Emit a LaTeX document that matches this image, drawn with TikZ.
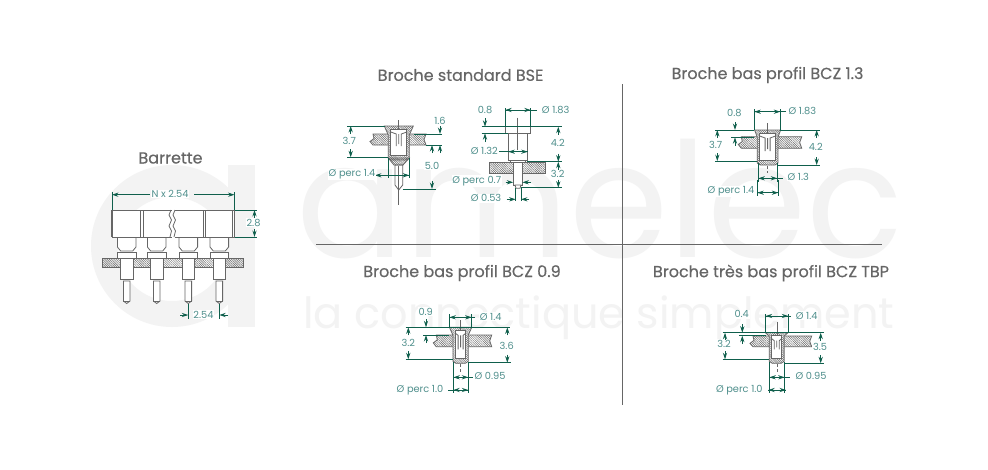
\documentclass[tikz,border=0pt]{standalone}
\usepackage{fontspec}
\setmainfont{Poppins}
\newfontfamily\titlefont[FakeBold=0.35]{Poppins}
\usetikzlibrary{arrows.meta,patterns.meta}

\definecolor{dimgreen}{HTML}{0F5F4C}
\definecolor{partgray}{HTML}{666666}
\definecolor{labelteal}{HTML}{4F8F8C}
\definecolor{markgray}{HTML}{F3F3F3}

\tikzset{
  partline/.style={draw=partgray, line width=0.8pt},
  sepline/.style={draw=partgray, line width=0.8pt},
  dimline/.style={draw=dimgreen, line width=0.9pt},
  dimtip/.style={dimline, -{Stealth[length=6.5pt,width=4.2pt]}},
  dimlabel/.style={text=labelteal, fill=white, inner sep=0.8pt, font=\fontsize{9.8}{11}\selectfont},
  titlelabel/.style={text=partgray, font=\titlefont\fontsize{16}{18}\selectfont},
  hatched/.style={pattern={Lines[angle=-45,distance=1.6pt,line width=0.45pt]}, pattern color=partgray},
  densehatch/.style={pattern={Lines[angle=-45,distance=1.5pt,line width=0.5pt]}, pattern color=partgray},
}

% plate with broken ends: left, right, top, bottom
\newcommand{\brokenplate}[4]{
  \draw[partline, hatched] ({#1+3},#3) -- (#2,#3) -- ({#2-2},{(#3+#4)/2}) -- (#2,#4) -- ({#1+3},#4) -- (#1,{(#3+#4)/2+2}) -- ({#1+4},{(#3+#4)/2-1}) -- cycle;
}
% socket section: centre, flange half width, body half width, top, plate level, bottom
\newcommand{\socketpin}[6]{
  \fill[white] ({#1-#2},#4) -- ({#1+#2},#4) -- ({#1+#3},#5) -- ({#1+#3},{#6-2}) -- ({#1+#3-3},#6) -- ({#1-#3+3},#6) -- ({#1-#3},{#6-2}) -- ({#1-#3},#5) -- cycle;
  \draw[partline, densehatch] ({#1-#2},#4) -- ({#1+#2},#4) -- ({#1+#3},#5) -- ({#1+#3},{#6-2}) -- ({#1+#3-3},#6) -- ({#1-#3+3},#6) -- ({#1-#3},{#6-2}) -- ({#1-#3},#5) -- cycle;
  \draw[partline, fill=white] ({#1-#3+2.5},{#4+3}) rectangle ({#1+#3-2.5},{#6-5});
  \draw[partline] ({#1-#3+2.5},{#4+6}) -- ({#1-2.5},{#4+8}) -- ({#1-2.5},{#6-14}) ({#1+#3-2.5},{#4+6}) -- ({#1+2.5},{#4+8}) -- ({#1+2.5},{#6-14}) (#1,{#4+8}) -- (#1,{#6-16});
}
% one pin of the strip: centre
\newcommand{\stripin}[1]{
  \draw[partline, fill=white] ({#1-9.3},237) -- ({#1-9.3},247) -- ({#1-6},251) -- ({#1+6},251) -- ({#1+9.3},247) -- ({#1+9.3},237);
  \draw[partline, fill=white] ({#1-9.3},252) rectangle ({#1+9.3},258.5);
  \draw[partline, fill=white] ({#1-3.3},281) -- ({#1-3.3},301) -- (#1,303.5) -- ({#1+3.3},301) -- ({#1+3.3},281) -- cycle;
  \draw[partline] ({#1-3.3},301) -- ({#1+3.3},301);
}
% vertical dimension: x, y1, y2, arrows pointing to y1 and y2
\newcommand{\dimv}[3]{
  \draw[dimtip] (#1,{#2+8}) -- (#1,#2);
  \draw[dimtip] (#1,{#3-8}) -- (#1,#3);
}
% horizontal dimension with the line between: x1, x2, y
\newcommand{\dimh}[3]{
  \draw[dimline] (#1,#3) -- (#2,#3);
  \draw[dimtip] ({(#1+#2)/2},#3) -- (#1,#3);
  \draw[dimtip] ({(#1+#2)/2},#3) -- (#2,#3);
}

\begin{document}
\begin{tikzpicture}[x=1pt,y=-1pt]
  \useasboundingbox (0,0) rectangle (988,469);
  \fill[white] (0,0) rectangle (988,469);

  % watermark
  \fill[markgray, even odd rule] (172,246) ellipse (81 and 81) (172,249) ellipse (54 and 52);
  \fill[white] (228,150) rectangle (260,200);
  \fill[markgray] (228,165) rectangle (255,327);
  \node[text=markgray, anchor=base, inner sep=0pt, font=\fontsize{160}{160}\selectfont] (markname) at (600,257) {amelec};
  \node[text=markgray, anchor=base, inner sep=0pt, font=\fontsize{43}{43}\selectfont] (markline) at (599,328) {la connectique simplement};

  % separators
  \draw[sepline] (622,84) -- (622,405);
  \draw[sepline] (316,244) -- (882,244);

  % titles
  \node[titlelabel] (titlestrip) at (170.5,158) {Barrette};
  \node[titlelabel] (titlebse) at (460.5,75) {Broche standard BSE};
  \node[titlelabel] (titlebcz13) at (767.5,75) {Broche bas profil BCZ 1.3};
  \node[titlelabel] (titlebcz09) at (462,273) {Broche bas profil BCZ 0.9};
  \node[titlelabel] (titletbp) at (771,273) {Broche très bas profil BCZ TBP};

  % strip body
  \stripin{126.7}
  \stripin{156.7}
  \stripin{188.3}
  \stripin{219.3}
  \draw[partline, hatched] (102.7,258.5) rectangle (243,267.3);
  \foreach \pinx in {126.7,156.7,188.3,219.3}
    \draw[partline, fill=white] ({\pinx-6.3},258.5) rectangle ({\pinx+6.3},279);
  \draw[partline, fill=white] (112,210) rectangle (234.5,237);
  \draw[draw=partgray, line width=1.1pt] (112,210) -- (112,237);
  \draw[partline] (140,210) -- (140,237) (143,210) -- (143,237) (203,210) -- (203,237) (205.5,210) -- (205.5,237) (232,210) -- (232,237);
  \fill[white] (172,209) rectangle (175,238);
  \draw[partline] (171,210) -- (169,215) -- (171.5,220) -- (169,226) -- (171.5,231) -- (170,237);
  \draw[partline] (175,210) -- (173,215) -- (175.5,220) -- (173,226) -- (175.5,231) -- (174,237);

  % strip dimensions
  \draw[dimline] (112,192) -- (112,210) (234.5,192) -- (234.5,210);
  \draw[dimtip] (150,194.7) -- (112,194.7);
  \draw[dimtip] (194,194.7) -- (234.5,194.7);
  \node[dimlabel] (lblstripn) at (170,194) {N x 2.54};
  \draw[dimline] (234.5,210) -- (257,210) (234.5,237) -- (257,237);
  \dimv{254.5}{210}{237}
  \node[dimlabel] (lblstriph) at (253.5,222.5) {2.8};
  \draw[dimline] (188.3,303.5) -- (188.3,318.5) (219.3,303.5) -- (219.3,318.5);
  \draw[dimtip] (180,315) -- (188.3,315);
  \draw[dimtip] (228,315) -- (219.3,315);
  \node[dimlabel] (lblstripp) at (203.5,314.5) {2.54};

  % standard pin, left view
  \brokenplate{370}{426}{134}{145}
  \draw[partline, fill=white] (395,165) -- (395,185) -- (398.7,190) -- (402.7,185) -- (402.7,165) -- cycle;
  \socketpin{398.8}{14.5}{10.5}{126}{135}{160}
  \draw[partline, densehatch] (388.3,158) -- (394,165) -- (403,165) -- (409.3,158) -- cycle;
  \draw[partline] (398.3,120) -- (398.3,130) (398.3,190) -- (398.3,205) (398.3,166) -- (398.3,190);

  \draw[dimline] (347,126) -- (385,126) (347,157.3) -- (388,157.3);
  \dimv{350.7}{126}{157.3}
  \node[dimlabel] (lblbsea) at (349.3,140.7) {3.7};
  \draw[dimline] (414,134) -- (442,134) (426,145) -- (442,145) (402.7,189) -- (436,189);
  \draw[dimtip] (440,126) -- (440,134);
  \draw[dimtip] (440,153) -- (440,145);
  \node[dimlabel] (lblbseb) at (440,120.7) {1.6};
  \dimv{432}{145}{189}
  \node[dimlabel] (lblbsec) at (432,166) {5.0};
  \draw[dimline] (388.3,158) -- (388.3,178) (409.3,158) -- (409.3,178);
  \dimh{375}{409.3}{175.3}
  \node[dimlabel] (lblbsed) at (352,174.3) {Ø perc 1.4};

  % standard pin, right view
  \draw[partline, hatched] (489.3,162.7) rectangle (545,173.3);
  \draw[partline, fill=white] (513.3,162) rectangle (522.3,185);
  \draw[partline, fill=white] (515,185) -- (516,188.3) -- (520,188.3) -- (521,185) -- cycle;
  \draw[partline, fill=white] (508.3,133.3) rectangle (527.7,160);
  \draw[partline, fill=white] (510,160) rectangle (525,162.5);
  \draw[partline, fill=white] (505.3,126.7) rectangle (530.7,133.3);
  \draw[partline] (517.7,117.7) -- (517.7,150);

  \draw[dimline] (505.3,108.3) -- (505.3,126.7) (530.7,108.3) -- (530.7,126.7);
  \draw[dimline] (505.3,110) -- (536.7,110);
  \draw[dimtip] (514,110) -- (505.3,110);
  \draw[dimtip] (522,110) -- (530.7,110);
  \node[dimlabel] (lblrighta) at (555.7,110) {Ø 1.83};
  \draw[dimline] (481.7,126.7) -- (561.7,126.7) (481.7,133.3) -- (508.3,133.3);
  \draw[dimtip] (485,118) -- (485,126.7);
  \draw[dimtip] (485,142) -- (485,133.3);
  \node[dimlabel] (lblrightb) at (485,110) {0.8};
  \draw[dimline] (527,161.7) -- (561.7,161.7) (521,187.7) -- (561.7,187.7);
  \dimv{558.3}{126.7}{161.7}
  \node[dimlabel] (lblrightc) at (557.7,142.7) {4.2};
  \dimv{558.3}{161.7}{187.7}
  \node[dimlabel] (lblrightd) at (557.7,174.3) {3.2};
  \draw[dimline] (499,151.7) -- (527.7,151.7);
  \draw[dimtip] (517,151.7) -- (508.3,151.7);
  \draw[dimtip] (519,151.7) -- (527.7,151.7);
  \node[dimlabel] (lblrighte) at (484.3,150.7) {Ø 1.32};
  \draw[dimtip] (505.5,182.3) -- (513.3,182.3);
  \draw[dimtip] (531,182.3) -- (522.3,182.3);
  \node[dimlabel] (lblrightf) at (476.7,181) {Ø perc 0.7};
  \draw[dimline] (515.7,188) -- (515.7,201) (521,188) -- (521,201);
  \draw[dimtip] (506.7,199.3) -- (515.7,199.3);
  \draw[dimtip] (529.3,199.3) -- (521,199.3);
  \node[dimlabel] (lblrightg) at (486,198.3) {Ø 0.53};

  % low profile 1.3
  \brokenplate{738.3}{801.7}{136.7}{148.3}
  \socketpin{767.6}{13}{10.4}{130}{137}{165}
  \draw[partline] (767.3,123) -- (767.3,134);
  \draw[partline, densely dashed] (767.3,166) -- (767.3,173);

  \draw[dimline] (754.3,109.3) -- (754.3,130) (780.3,109.3) -- (780.3,130);
  \draw[dimline] (786,111.7) -- (754.3,111.7);
  \draw[dimtip] (763,111.7) -- (754.3,111.7);
  \draw[dimtip] (772,111.7) -- (780.3,111.7);
  \node[dimlabel] (lblhigha) at (802.3,111) {Ø 1.83};
  \draw[dimline] (715,130) -- (754.3,130) (780.3,130) -- (820,130) (731,137.3) -- (754.3,137.3);
  \draw[dimtip] (735,122) -- (735,130);
  \draw[dimtip] (735,145.5) -- (735,137.3);
  \node[dimlabel] (lblhighb) at (734.3,113.3) {0.8};
  \draw[dimline] (715,161) -- (757.3,161) (778,165) -- (820,165);
  \dimv{717.3}{130}{161}
  \node[dimlabel] (lblhighc) at (715.7,145) {3.7};
  \dimv{816.7}{130}{165}
  \node[dimlabel] (lblhighd) at (815.7,147.3) {4.2};
  \draw[dimline] (758.3,163) -- (758.3,181.7) (777.3,163) -- (777.3,181.7);
  \draw[dimline] (758.3,178.3) -- (783,178.3);
  \draw[dimtip] (767,178.3) -- (758.3,178.3);
  \draw[dimtip] (769,178.3) -- (777.3,178.3);
  \node[dimlabel] (lblhighe) at (798.3,176.7) {Ø 1.3};
  \draw[dimline] (757.3,180) -- (757.3,195.7) (778.3,180) -- (778.3,195.7);
  \dimh{757.3}{778.3}{192.7}
  \node[dimlabel] (lblhighf) at (731,191.7) {Ø perc 1.4};

  % low profile 0.9
  \brokenplate{433.3}{491.7}{335}{346.7}
  \socketpin{460.6}{11.2}{7.7}{327.3}{335}{363.3}
  \draw[partline] (460.3,320) -- (460.3,331);
  \draw[partline, densely dashed] (460.3,364) -- (460.3,371.7);

  \draw[dimline] (449.3,314) -- (449.3,327.3) (471.7,314) -- (471.7,327.3);
  \draw[dimline] (449.3,317.3) -- (475,317.3);
  \draw[dimtip] (458,317.3) -- (449.3,317.3);
  \draw[dimtip] (463,317.3) -- (471.7,317.3);
  \node[dimlabel] (lblmida) at (490.7,316.7) {Ø 1.4};
  \draw[dimline] (405.7,327.3) -- (510,327.3) (423.3,335) -- (449.3,335);
  \draw[dimtip] (426,319) -- (426,327.3);
  \draw[dimtip] (426,343) -- (426,335);
  \node[dimlabel] (lblmidb) at (425.7,311.7) {0.9};
  \draw[dimline] (405.7,359.3) -- (453,359.3) (468.3,362.7) -- (511,362.7);
  \dimv{408.3}{327.3}{359.3}
  \node[dimlabel] (lblmidc) at (408.3,342.7) {3.2};
  \dimv{507.3}{327.3}{362.7}
  \node[dimlabel] (lblmidd) at (506.7,346) {3.6};
  \draw[dimline] (453.3,362) -- (453.3,393.3) (468.3,362) -- (468.3,393.3);
  \draw[dimline] (453.3,377.3) -- (473.3,377.3);
  \draw[dimtip] (460.8,377.3) -- (453.3,377.3);
  \draw[dimtip] (460.8,377.3) -- (468.3,377.3);
  \node[dimlabel] (lblmide) at (490,376) {Ø 0.95};
  \draw[dimline] (448.3,390) -- (468.3,390);
  \draw[dimtip] (460.8,390) -- (453.3,390);
  \draw[dimtip] (460.8,390) -- (468.3,390);
  \node[dimlabel] (lblmidf) at (420,390) {Ø perc 1.0};

  % very low profile
  \brokenplate{750}{811.7}{336}{346.7}
  \socketpin{776.7}{11.3}{7.4}{332.7}{336}{363.3}
  \draw[partline] (777.3,321.7) -- (777.3,336);
  \draw[partline, densely dashed] (777.3,364) -- (777.3,371.7);

  \draw[dimline] (765.7,314) -- (765.7,332.7) (788.3,314) -- (788.3,332.7);
  \draw[dimline] (765.7,316) -- (790.7,316);
  \draw[dimtip] (774,316) -- (765.7,316);
  \draw[dimtip] (780,316) -- (788.3,316);
  \node[dimlabel] (lbltbpa) at (806.7,315.7) {Ø 1.4};
  \draw[dimline] (722.7,332.7) -- (824,332.7) (739.3,335.7) -- (765.7,335.7);
  \draw[dimtip] (742.3,324) -- (742.3,332.7);
  \draw[dimtip] (742.3,344) -- (742.3,335.7);
  \node[dimlabel] (lbltbpb) at (741.7,314.3) {0.4};
  \draw[dimline] (722.7,359.3) -- (769.3,359.3) (784,363.3) -- (824,363.3);
  \dimv{725}{332.7}{359.3}
  \node[dimlabel] (lbltbpc) at (724,344.3) {3.2};
  \dimv{820.7}{332.7}{363.3}
  \node[dimlabel] (lbltbpd) at (820,346.7) {3.5};
  \draw[dimline] (769.3,362) -- (769.3,393.3) (784.7,362) -- (784.7,393.3);
  \draw[dimline] (769.3,377.3) -- (790,377.3);
  \draw[dimtip] (777,377.3) -- (769.3,377.3);
  \draw[dimtip] (777,377.3) -- (784.7,377.3);
  \node[dimlabel] (lbltbpe) at (811,376) {Ø 0.95};
  \dimh{768.3}{786}{390}
  \node[dimlabel] (lbltbpf) at (739.3,390) {Ø perc 1.0};
\end{tikzpicture}
\end{document}
